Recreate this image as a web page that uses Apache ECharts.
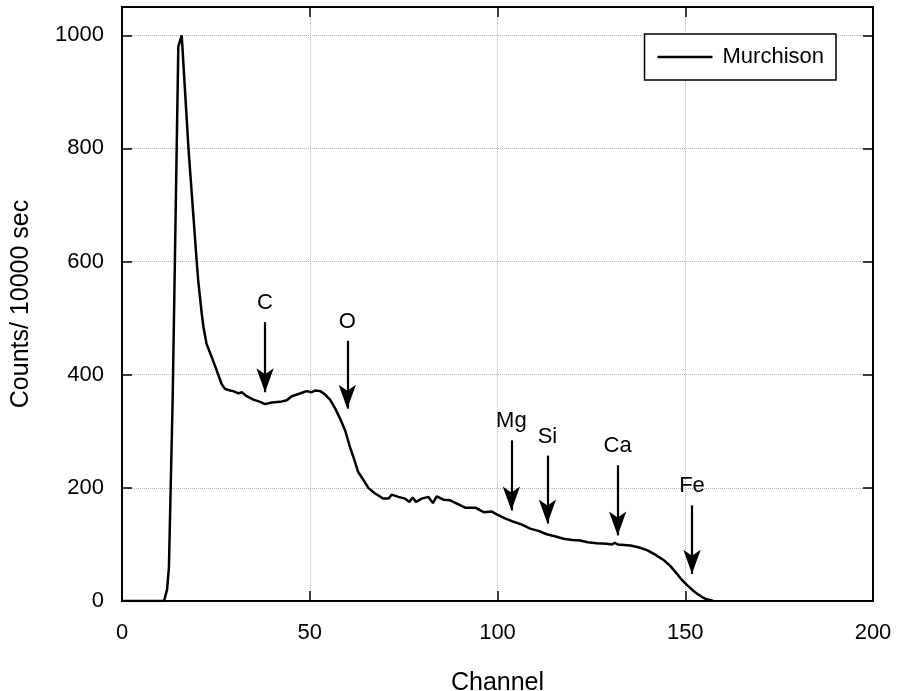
<!DOCTYPE html>
<html>
<head>
<meta charset="utf-8">
<script src="https://cdn.jsdelivr.net/npm/echarts@6/dist/echarts.min.js"></script>
<style>
  html, body { margin: 0; padding: 0; background: #fff; }
  #chart { width: 897px; height: 691px; }
</style>
</head>
<body>
<div id="chart"></div>
<script>
// Murchison spectrum: counts per 10000 s vs channel.
const channel = [
  0, 11.2, 12, 12.5, 13.5, 15, 15.9, 17.7, 19.9, 20.3, 21.2, 21.7, 22.5, 23.9, 25.2,
  26.5, 27.4, 28.8, 29.6, 31, 31.9, 33.2, 35, 36.8, 38.1, 39.9, 42.1, 43.9, 45.2,
  47, 48.3, 49.2, 50.5, 51.4, 52.8, 54.1, 55.4, 56.8, 58.1, 59.4, 60.8, 61.6, 62.9,
  64.3, 65.6, 67.4, 69.6, 71, 71.8, 73.6, 75.4, 76.5, 77.4, 78.3, 79.8, 81.6, 82.8,
  83.8, 85.6, 87.4, 89.2, 91.4, 94.1, 96.3, 98.5, 99.8, 102, 104.3, 106.5, 108.7,
  110.9, 113.1, 115.5, 117.6, 120, 122, 124, 126.5, 129, 130.5, 131.2, 132, 135.4,
  137.5, 139.8, 142, 144.3, 146, 147.8, 149, 150.5, 152, 153.1, 154.5, 155.7, 157.5
];
const counts = [
  0, 0, 20, 60, 360, 980, 1000, 800, 600, 566, 510, 484, 455, 431, 408,
  384, 375, 372, 371, 367, 369, 362, 356, 352, 348, 351, 352, 355, 362,
  366, 369, 371, 369, 372, 371, 365, 356, 340, 322, 302, 270, 255, 228,
  214, 200, 190, 181, 181, 188, 184, 181, 175, 183, 175, 181, 184, 173,
  185, 179, 178, 172, 165, 165, 157, 158, 153, 146, 140, 135, 128,
  124, 118, 114, 110, 108, 107, 104, 102, 101, 100, 103, 100, 98,
  95, 90, 82, 72, 62, 48, 38, 28, 19, 13, 7, 3, 0
];

// element markers: label, channel, arrow top, arrow tip (counts)
const elements = ['C', 'O', 'Mg', 'Si', 'Ca', 'Fe'];
const elemChannel = [38.1, 60.0, 103.7, 113.3, 132.0, 151.8];
const arrowTop = [493, 460, 284, 257, 240, 169];
const arrowTip = [369, 340, 160, 137, 116, 48];

const xTicks = { min: 0, max: 200, interval: 50 };
const yTicks = { min: 0, max: 1050, interval: 200 };

const FONT = '"Liberation Sans", Arial, sans-serif';
const GRIDLINE = { show: true, lineStyle: { color: '#b4b4b4', type: 'dotted', width: 1 } };
const FRAME = { show: true, onZero: false, lineStyle: { color: '#000', width: 2 } };
const TICK_IN = { show: true, inside: true, length: 10, lineStyle: { color: '#000', width: 1.5 } };

const chart = echarts.init(document.getElementById('chart'), null, { renderer: 'canvas' });

chart.setOption({
  backgroundColor: '#fff',
  animation: false,
  textStyle: { fontFamily: FONT, color: '#000' },
  grid: { left: 122, right: 24, top: 7, bottom: 90, containLabel: false, outerBoundsMode: 'none' },
  legend: {
    right: 61, top: 34,
    padding: [12, 12, 12, 13],
    backgroundColor: '#fff', borderColor: '#000', borderWidth: 1.5, borderRadius: 0,
    icon: 'rect', itemWidth: 55, itemHeight: 2.5,
    textStyle: { fontFamily: FONT, fontSize: 22, color: '#000', padding: [0, 0, 0, 5] },
    data: ['Murchison'],
  },
  xAxis: [
    Object.assign({ type: 'value', position: 'bottom' }, xTicks, {
      name: 'Channel', nameLocation: 'middle', nameGap: 70,
      nameTextStyle: { fontFamily: FONT, fontSize: 25, color: '#000' },
      axisLine: FRAME, axisTick: TICK_IN, splitLine: GRIDLINE,
      axisLabel: { fontFamily: FONT, fontSize: 22, color: '#000', margin: 21 },
    }),
    Object.assign({ type: 'value', position: 'top' }, xTicks, {
      axisLine: FRAME, axisTick: TICK_IN, splitLine: { show: false },
      axisLabel: { show: false },
    }),
  ],
  yAxis: [
    Object.assign({ type: 'value', position: 'left' }, yTicks, {
      name: 'Counts/ 10000 sec', nameLocation: 'middle', nameGap: 88,
      nameTextStyle: { fontFamily: FONT, fontSize: 25, color: '#000' },
      axisLine: FRAME, axisTick: TICK_IN, splitLine: GRIDLINE,
      axisLabel: {
        fontFamily: FONT, fontSize: 22, color: '#000', margin: 18, showMaxLabel: false,
        formatter: (v) => String(v),
      },
    }),
    Object.assign({ type: 'value', position: 'right' }, yTicks, {
      axisLine: FRAME, axisTick: TICK_IN, splitLine: { show: false },
      axisLabel: { show: false },
    }),
  ],
  series: [{
    name: 'Murchison', type: 'line',
    xAxisIndex: 0, yAxisIndex: 0,
    data: channel.map((c, i) => [c, counts[i]]),
    symbol: 'none', smooth: false,
    lineStyle: { color: '#000', width: 2.5 },
    itemStyle: { color: '#000' },
    markLine: {
      silent: true, animation: false,
      symbol: ['none', 'arrow'], symbolSize: [13, 24],
      lineStyle: { color: '#000', width: 2.2, type: 'solid' },
      label: {
        show: true, position: 'start', distance: 8,
        fontFamily: FONT, fontSize: 22, color: '#000',
        formatter: (p) => p.name,
      },
      data: elements.map((el, i) => [
        { name: el, coord: [elemChannel[i], arrowTop[i]] },
        { coord: [elemChannel[i], arrowTip[i]] },
      ]),
    },
  }],
});
</script>
</body>
</html>
